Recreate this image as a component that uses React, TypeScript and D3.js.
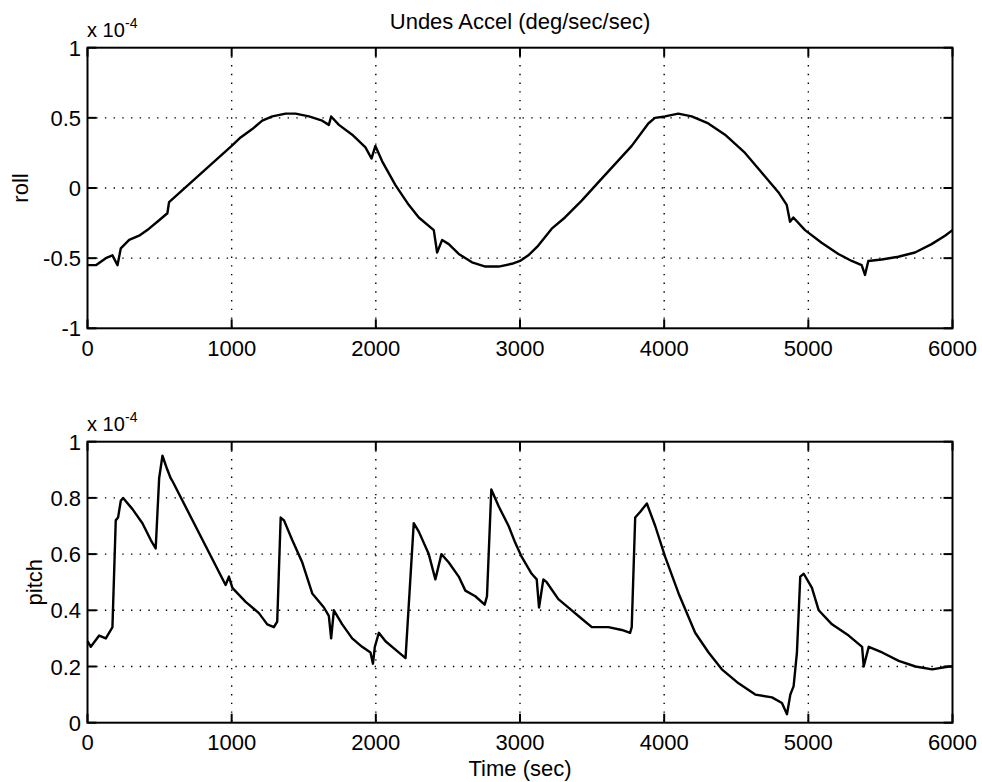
import React from "react";
import * as d3 from "d3";

const xTicks = [0, 1000, 2000, 3000, 4000, 5000, 6000];
const rollTicks = [-1, -0.5, 0, 0.5, 1];
const rollTickLabels = ["-1", "-0.5", "0", "0.5", "1"];
const pitchTicks = [0, 0.2, 0.4, 0.6, 0.8, 1];
const pitchTickLabels = ["0", "0.2", "0.4", "0.6", "0.8", "1"];

// roll (x 1e-4)
const rollT = [0, 58, 127, 173, 208, 231, 289, 358, 427, 497, 554, 566, 1000, 1062, 1143, 1212, 1282, 1374, 1443, 1536, 1628, 1674, 1690, 1744, 1836, 1928, 1970, 1997, 2044, 2136, 2228, 2298, 2402, 2425, 2460, 2506, 2575, 2667, 2760, 2852, 2944, 3000, 3058, 3127, 3220, 3312, 3428, 3543, 3659, 3775, 3890, 3936, 4006, 4098, 4191, 4306, 4422, 4561, 4676, 4792, 4850, 4873, 4896, 4977, 5092, 5208, 5301, 5370, 5393, 5416, 5509, 5624, 5740, 5855, 5948, 6000];
const rollV = [-0.55, -0.55, -0.5, -0.48, -0.55, -0.43, -0.37, -0.34, -0.29, -0.23, -0.18, -0.1, 0.3, 0.36, 0.42, 0.48, 0.51, 0.53, 0.53, 0.51, 0.48, 0.45, 0.51, 0.45, 0.38, 0.29, 0.21, 0.3, 0.19, 0.02, -0.12, -0.21, -0.3, -0.46, -0.37, -0.4, -0.47, -0.53, -0.56, -0.56, -0.54, -0.52, -0.48, -0.41, -0.29, -0.21, -0.09, 0.04, 0.17, 0.3, 0.46, 0.5, 0.51, 0.53, 0.51, 0.46, 0.38, 0.25, 0.11, -0.03, -0.12, -0.24, -0.21, -0.3, -0.39, -0.47, -0.52, -0.55, -0.62, -0.52, -0.51, -0.49, -0.46, -0.4, -0.34, -0.3];

// pitch (x 1e-4)
const pitchT = [0, 23, 81, 127, 162, 173, 196, 212, 231, 247, 312, 381, 439, 473, 497, 520, 554, 577, 589, 958, 981, 1005, 1097, 1189, 1247, 1293, 1316, 1340, 1363, 1420, 1490, 1559, 1640, 1674, 1690, 1709, 1767, 1836, 1905, 1963, 1980, 1993, 2021, 2067, 2136, 2206, 2263, 2298, 2367, 2413, 2455, 2506, 2575, 2621, 2690, 2755, 2771, 2801, 2852, 2921, 2967, 3012, 3081, 3116, 3132, 3162, 3185, 3266, 3359, 3428, 3498, 3613, 3706, 3764, 3775, 3799, 3833, 3880, 3938, 4007, 4100, 4215, 4308, 4400, 4516, 4632, 4748, 4817, 4852, 4875, 4898, 4921, 4944, 4968, 5002, 5025, 5072, 5164, 5280, 5373, 5384, 5419, 5512, 5627, 5743, 5859, 5975, 6000];
const pitchV = [0.29, 0.27, 0.31, 0.3, 0.33, 0.34, 0.72, 0.73, 0.79, 0.8, 0.76, 0.71, 0.65, 0.62, 0.87, 0.95, 0.9, 0.87, 0.86, 0.49, 0.52, 0.48, 0.43, 0.39, 0.35, 0.34, 0.36, 0.73, 0.72, 0.65, 0.57, 0.46, 0.41, 0.38, 0.3, 0.4, 0.35, 0.3, 0.27, 0.25, 0.21, 0.27, 0.32, 0.29, 0.26, 0.23, 0.71, 0.68, 0.6, 0.51, 0.6, 0.57, 0.52, 0.47, 0.45, 0.42, 0.45, 0.83, 0.77, 0.7, 0.64, 0.59, 0.53, 0.51, 0.41, 0.51, 0.5, 0.44, 0.4, 0.37, 0.34, 0.34, 0.33, 0.32, 0.34, 0.73, 0.75, 0.78, 0.7, 0.59, 0.46, 0.32, 0.25, 0.19, 0.14, 0.1, 0.09, 0.07, 0.03, 0.1, 0.13, 0.25, 0.52, 0.53, 0.5, 0.48, 0.4, 0.35, 0.31, 0.27, 0.2, 0.27, 0.25, 0.22, 0.2, 0.19, 0.2, 0.2];

const FONT = "'Liberation Sans', Arial, Helvetica, sans-serif";
const X0 = 87.5;
const X1 = 952.5;

type PanelProps = {
  top: number;
  bottom: number;
  domain: [number, number];
  ticks: number[];
  tickLabels: string[];
  t: number[];
  v: number[];
  ylabel: string;
  ylabelX: number;
};

function Panel({ top, bottom, domain, ticks, tickLabels, t, v, ylabel, ylabelX }: PanelProps) {
  const x = d3.scaleLinear().domain([0, 6000]).range([X0, X1]);
  const y = d3.scaleLinear().domain(domain).range([bottom, top]);
  const line = d3
    .line<number>()
    .x((_, i) => x(t[i]))
    .y((d) => y(d));
  const tickLen = 9;
  const midY = (top + bottom) / 2;
  return (
    <g>
      {xTicks.slice(1, -1).map((d) => (
        <line key={"gx" + d} x1={x(d)} x2={x(d)} y1={top} y2={bottom} stroke="#000" strokeWidth={1.4} strokeDasharray="1.4 7.3" />
      ))}
      {ticks.slice(1, -1).map((d) => (
        <line key={"gy" + d} x1={X0} x2={X1} y1={y(d)} y2={y(d)} stroke="#000" strokeWidth={1.4} strokeDasharray="1.4 7.3" />
      ))}
      <path d={line(v) || ""} fill="none" stroke="#000" strokeWidth={2.4} strokeLinejoin="round" />
      <rect x={X0} y={top} width={X1 - X0} height={bottom - top} fill="none" stroke="#000" strokeWidth={2} />
      {xTicks.map((d) => (
        <g key={"tx" + d}>
          <line x1={x(d)} x2={x(d)} y1={bottom} y2={bottom - tickLen} stroke="#000" strokeWidth={2} />
          <line x1={x(d)} x2={x(d)} y1={top} y2={top + tickLen} stroke="#000" strokeWidth={2} />
          <text x={x(d)} y={bottom + 27.5} textAnchor="middle" fontSize={22} fontFamily={FONT}>
            {d}
          </text>
        </g>
      ))}
      {ticks.map((d, i) => (
        <g key={"ty" + d}>
          <line x1={X0} x2={X0 + tickLen} y1={y(d)} y2={y(d)} stroke="#000" strokeWidth={2} />
          <line x1={X1} x2={X1 - tickLen} y1={y(d)} y2={y(d)} stroke="#000" strokeWidth={2} />
          <text x={81} y={y(d) + 8} textAnchor="end" fontSize={22} fontFamily={FONT}>
            {tickLabels[i]}
          </text>
        </g>
      ))}
      <text x={87} y={top - 11} fontSize={20} fontFamily={FONT}>
        x 10
      </text>
      <text x={125} y={top - 20} fontSize={14} fontFamily={FONT}>
        -4
      </text>
      <text transform={`translate(${ylabelX},${midY}) rotate(-90)`} textAnchor="middle" fontSize={22} fontFamily={FONT}>
        {ylabel}
      </text>
    </g>
  );
}

export default function App() {
  return (
    <svg width={982} height={782} style={{ position: "absolute", left: 0, top: 0, background: "#fff" }}>
      <rect x={0} y={0} width={982} height={782} fill="#fff" />
      <text x={520} y={29} textAnchor="middle" fontSize={22} fontFamily={FONT}>
        Undes Accel (deg/sec/sec)
      </text>
      <Panel top={47.7} bottom={328.3} domain={[-1, 1]} ticks={rollTicks} tickLabels={rollTickLabels} t={rollT} v={rollV} ylabel="roll" ylabelX={28} />
      <Panel top={441.7} bottom={722.7} domain={[0, 1]} ticks={pitchTicks} tickLabels={pitchTickLabels} t={pitchT} v={pitchV} ylabel="pitch" ylabelX={42} />
      <text x={520} y={775.5} textAnchor="middle" fontSize={22} fontFamily={FONT}>
        Time (sec)
      </text>
    </svg>
  );
}
